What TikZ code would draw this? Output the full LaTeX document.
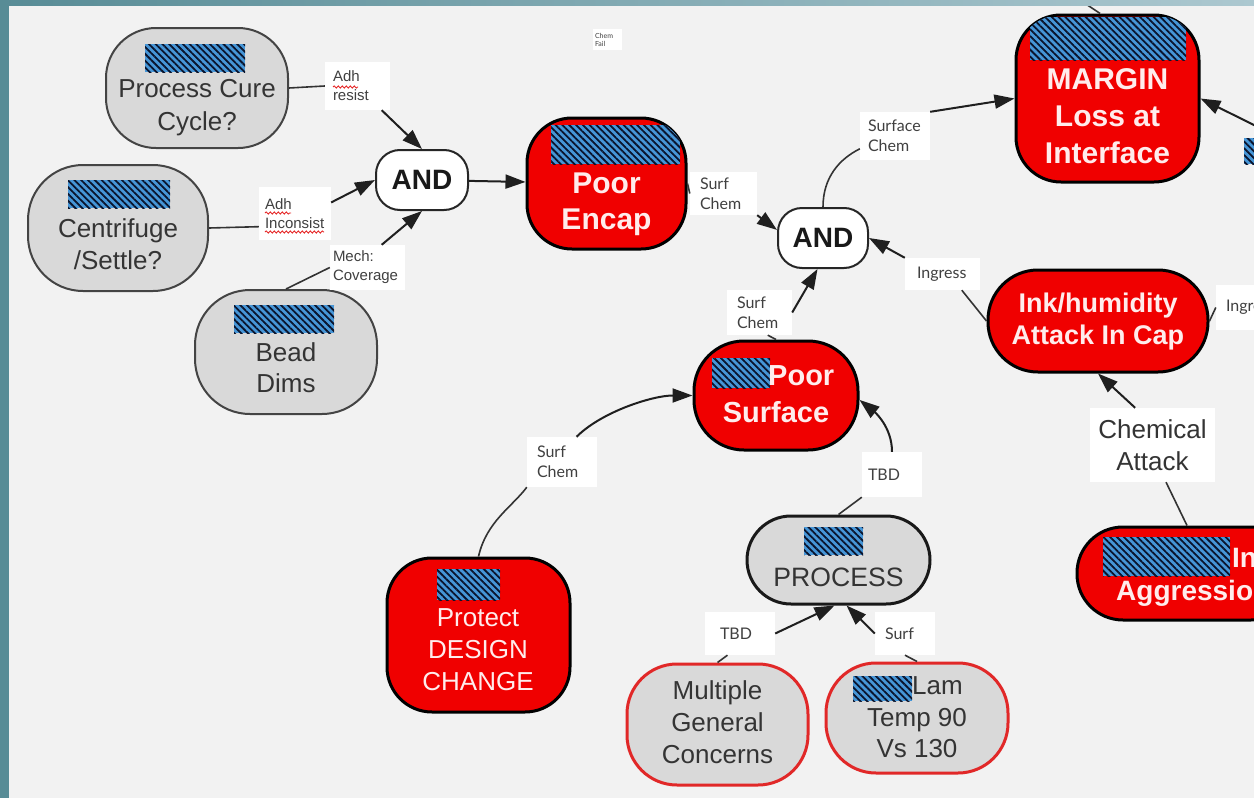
\documentclass[tikz,border=0pt]{standalone}
\usepackage{fontspec}
\setmainfont{Liberation Sans}
\newfontfamily\lblfont{Lato}
\usetikzlibrary{arrows.meta,patterns.meta,decorations.pathmorphing}

\definecolor{pagebg}{RGB}{242,242,242}
\definecolor{frameteal}{RGB}{88,140,150}
\definecolor{framelight}{RGB}{172,200,208}
\definecolor{ndgray}{RGB}{217,217,217}
\definecolor{ndedge}{RGB}{68,68,68}
\definecolor{ndred}{RGB}{240,0,0}
\definecolor{rimred}{RGB}{225,40,40}
\definecolor{redtxt}{RGB}{255,236,236}
\definecolor{graytxt}{RGB}{52,52,52}
\definecolor{lbltxt}{RGB}{64,64,64}
\definecolor{hatchblue}{RGB}{70,150,215}
\definecolor{hatchink}{RGB}{10,20,45}
\definecolor{squig}{RGB}{230,40,40}

% striped badge inside a rounded node, clipped to the node outline
\newcommand\hatchin[4]{%
  \begin{scope}
    \clip[rounded corners=#2] ([shift={(1.5,-1.5)}]#1.south west) rectangle ([shift={(-1.5,1.5)}]#1.north east);
    \path[hatch] (#3) rectangle (#4);
  \end{scope}}

\begin{document}
\begin{tikzpicture}[x=1pt,y=-1pt,
  ndbox/.style={rectangle,inner sep=0pt},
  graynd/.style={ndbox,fill=ndgray,draw=ndedge,line width=2pt},
  rednd/.style={ndbox,fill=ndred,draw=black,line width=3pt},
  andnd/.style={ndbox,fill=white,draw=black!85,line width=2pt,rounded corners=24pt,
    minimum width=92pt,minimum height=60pt,text=black!90,font=\fontsize{28}{34}\selectfont\bfseries},
  procnd/.style={ndbox,fill=ndgray,draw=black!90,line width=3pt},
  rimnd/.style={ndbox,fill=ndgray,draw=rimred,line width=3pt},
  gtxt/.style={inner sep=0pt,align=center,text=graytxt,font=\fontsize{26}{32}\selectfont},
  rtxt/.style={inner sep=0pt,align=center,text=redtxt,font=\fontsize{30}{37}\selectfont\bfseries},
  lbl/.style={fill=white,inner ysep=0pt,align=left,text=lbltxt,font=\lblfont\fontsize{16}{20}\selectfont},
  lblA/.style={lbl,font=\fontsize{15}{19}\selectfont},
  hatch/.style={preaction={fill=hatchblue},pattern={Lines[angle=-45,distance=4.8pt,line width=1.8pt]},pattern color=hatchink},
  arr/.style={draw=black!88,line width=2pt,-{Triangle[length=20pt,width=14pt]}},
  ln/.style={draw=black!80,line width=1.6pt},
  squiggle/.style={draw=squig,line width=0.9pt,decorate,decoration={snake,amplitude=1.1pt,segment length=4pt}}
]
\useasboundingbox (0,0) rectangle (1254,798);
\fill[pagebg] (0,0) rectangle (1254,798);

\begin{scope}
\clip (0,0) rectangle (1254,798);

% concept nodes
\node[graynd,minimum width=182pt,minimum height=120pt,rounded corners=50pt] (pc) at (197,88) {};
\node[graynd,minimum width=180pt,minimum height=126pt,rounded corners=55pt] (cf) at (118,228) {};
\node[graynd,minimum width=182pt,minimum height=124pt,rounded corners=55pt] (bd) at (286,352) {};
\node[andnd] (and1) at (422,180) {AND};
\node[rednd,minimum width=159pt,minimum height=131pt,rounded corners=45pt] (pe) at (606.5,183.5) {};
\node[andnd,minimum width=90pt] (and2) at (823,238) {AND};
\node[rednd,minimum width=183pt,minimum height=167pt,rounded corners=45pt] (mg) at (1107.5,98.5) {};
\node[rednd,minimum width=220pt,minimum height=102pt,rounded corners=50pt] (ink) at (1098,321) {};
\node[rednd,minimum width=164pt,minimum height=109pt,rounded corners=50pt] (ps) at (776,395.5) {};
\node[procnd,minimum width=183pt,minimum height=88pt,rounded corners=44pt] (proc) at (838.5,560) {};
\node[rednd,minimum width=183pt,minimum height=154pt,rounded corners=45pt] (pd) at (478.5,635) {};
\node[rimnd,minimum width=181pt,minimum height=121pt,rounded corners=50pt] (mgc) at (717.5,724.5) {};
\node[rimnd,minimum width=182pt,minimum height=110pt,rounded corners=50pt] (lam) at (917,718) {};
\node[rednd,minimum width=220pt,minimum height=93pt,rounded corners=46pt] (agg) at (1187,573.5) {};

% striped badges
\hatchin{pc}{50pt}{145,44}{245,72}
\hatchin{cf}{55pt}{68,180}{170,208}
\hatchin{bd}{55pt}{234,305}{334,333}
\hatchin{pe}{45pt}{551,125}{680,164}
\hatchin{mg}{45pt}{1030,17}{1186,60}
\hatchin{ps}{50pt}{712,358}{770,388}
\hatchin{proc}{44pt}{804,527}{863,555}
\hatchin{pd}{45pt}{437,569}{500,600}
\hatchin{lam}{50pt}{853,676}{912,701}
\hatchin{agg}{46pt}{1103,537}{1230,576}
\path[hatch] (1244,138) rectangle (1262,164);

% node texts
\node[gtxt,font=\fontsize{26}{33}\selectfont] (pc-t) at (197,107.3) {Process Cure\\Cycle?};
\node[gtxt] (cf-t) at (118,244.3) {Centrifuge\\/Settle?};
\node[gtxt,font=\fontsize{26}{31}\selectfont] (bd-t) at (286,367.5) {Bead\\Dims};
\node[rtxt,font=\fontsize{30}{36}\selectfont\bfseries] (pe-t) at (606.5,204) {Poor\\Encap};
\node[rtxt] (mg-t) at (1107.5,116) {MARGIN\\Loss at\\Interface};
\node[rtxt,font=\fontsize{27}{32}\selectfont\bfseries] (ink-t) at (1098,321.8) {Ink/humidity\\Attack In Cap};
\node[rtxt,font=\fontsize{29}{36}\selectfont\bfseries,anchor=west] (ps-t1) at (768,376) {Poor};
\node[rtxt,font=\fontsize{29}{36}\selectfont\bfseries] (ps-t2) at (776,412) {Surface};
\node[gtxt,font=\fontsize{26.6}{32}\selectfont] (proc-t) at (838.5,577) {PROCESS};
\node[gtxt,text=redtxt] (pd-t) at (478,650) {Protect\\DESIGN\\CHANGE};
\node[gtxt] (mgc-t) at (717.5,722) {Multiple\\General\\Concerns};
\node[gtxt,anchor=west] (lam-t1) at (912,686) {Lam};
\node[gtxt,font=\fontsize{26}{31}\selectfont] (lam-t2) at (917,733.5) {Temp 90\\Vs 130};
\node[rtxt,font=\fontsize{28}{34}\selectfont\bfseries,anchor=west] (agg-t1) at (1232,558) {In};
\node[rtxt,font=\fontsize{28}{34}\selectfont\bfseries,anchor=west] (agg-t2) at (1116,593) {Aggression};

% link labels
\node[lblA,inner xsep=8pt,text width=49pt,minimum height=48pt] (l_adhres) at (357.5,86) {Adh\\resist};
\node[lblA,inner xsep=6pt,text width=60pt,minimum height=53pt] (l_adhinc) at (295,213.5) {Adh\\Inconsist};
\node[lblA,inner xsep=3pt,text width=69pt,minimum height=45pt] (l_mech) at (367.5,267.5) {Mech:\\Coverage};
\node[lbl,inner xsep=10pt,text width=47pt,minimum height=43pt] (l_sc1) at (723.5,193.5) {Surf\\Chem};
\node[lbl,inner xsep=8pt,text width=54pt,minimum height=48pt] (l_sfc) at (895,136) {Surface\\Chem};
\node[lbl,inner xsep=12pt,text width=51pt,minimum height=32pt] (l_ing) at (942.5,274) {Ingress};
\node[lbl,inner xsep=10pt,text width=45pt,minimum height=45pt] (l_sc2) at (759.5,312.5) {Surf\\Chem};
\node[lbl,inner xsep=10pt,text width=50pt,minimum height=50pt] (l_sc3) at (562,462) {Surf\\Chem};
\node[lbl,inner xsep=6pt,text width=48pt,minimum height=45pt] (l_tbd1) at (892,474.5) {TBD};
\node[lbl,inner xsep=15pt,text width=40pt,minimum height=43pt] (l_tbd2) at (740,633.5) {TBD};
\node[lbl,inner xsep=10pt,text width=40pt,minimum height=43pt] (l_surf) at (905,633.5) {Surf};
\node[fill=white,inner sep=0pt,minimum width=125pt,minimum height=74pt,align=center,
  text=graytxt,font=\fontsize{26}{32}\selectfont] (l_chem) at (1152.5,445) {Chemical\\Attack};
\node[lbl,inner xsep=10pt,text width=57pt,minimum height=45pt] (l_ingr) at (1254.5,307.5) {Ingress};
\node[fill=white,inner xsep=2pt,inner ysep=0pt,text width=25pt,minimum height=21pt,align=left,
  text=lbltxt,font=\lblfont\fontsize{7}{8}\selectfont] (chemfail) at (607.5,39.5) {Chem\\Fail};

% spell-check underlines
\draw[squiggle] (333,87) -- (358,87);
\draw[squiggle] (265,213) -- (291,213);
\draw[squiggle] (265,232) -- (324,232);

% connectors
\draw[ln] (pc.east) -- (l_adhres.west);
\draw[arr] (l_adhres.-45) -- (and1.north);
\draw[ln] (cf.east) -- (l_adhinc.200);
\draw[arr] (l_adhinc.17) -- (and1.west);
\draw[ln] (bd.north) -- (l_mech.west);
\draw[arr] (l_mech.58) -- (and1.south);
\draw[arr] (and1) -- (pe);
\draw[ln] (pe.east) -- (l_sc1.west);
\draw[arr] (l_sc1.south east) -- (and2.170);
\draw[ln] (and2.north) .. controls +(0,-30) and +(-20,10) .. (l_sfc.200);
\draw[arr] (l_sfc.north east) -- (mg.west);
\draw[ln] (ink.west) -- (l_ing.-40);
\draw[arr] (l_ing.north west) -- (and2.east);
\draw[ln] (ps.north) -- (l_sc2.-70);
\draw[arr] (l_sc2.east) -- (and2.-100);
\draw[ln] (pd.north) .. controls +(8,-35) and +(-15,20) .. (l_sc3.south west);
\draw[arr] (l_sc3.60) .. controls +(25,-25) and +(-40,0) .. (ps.west);
\draw[ln] (proc.north) -- (l_tbd1.south west);
\draw[arr] (l_tbd1.north) .. controls +(0,-25) and +(15,12) .. (ps.-3);
\draw[ln] (mgc.north) -- (l_tbd2.-120);
\draw[arr] (l_tbd2.east) -- (proc.-95);
\draw[ln] (lam.north) -- (l_surf.south);
\draw[arr] (l_surf.west) -- (proc.-80);
\draw[ln] (agg.north) -- (l_chem.-70);
\draw[arr] (l_chem.115) -- (ink.south);
\draw[ln] (ink.east) -- (l_ingr.west);
\coordinate (offsrc) at (1262,129);
\draw[arr] (offsrc) -- (mg.east);
\coordinate (topsrc) at (1074,-4);
\draw[ln] (topsrc) -- (mg.95);
\end{scope}

% slide frame
\fill[frameteal] (0,0) rectangle (9,798);
\shade[left color=frameteal,right color=framelight] (0,0) rectangle (1254,5);
\end{tikzpicture}
\end{document}
